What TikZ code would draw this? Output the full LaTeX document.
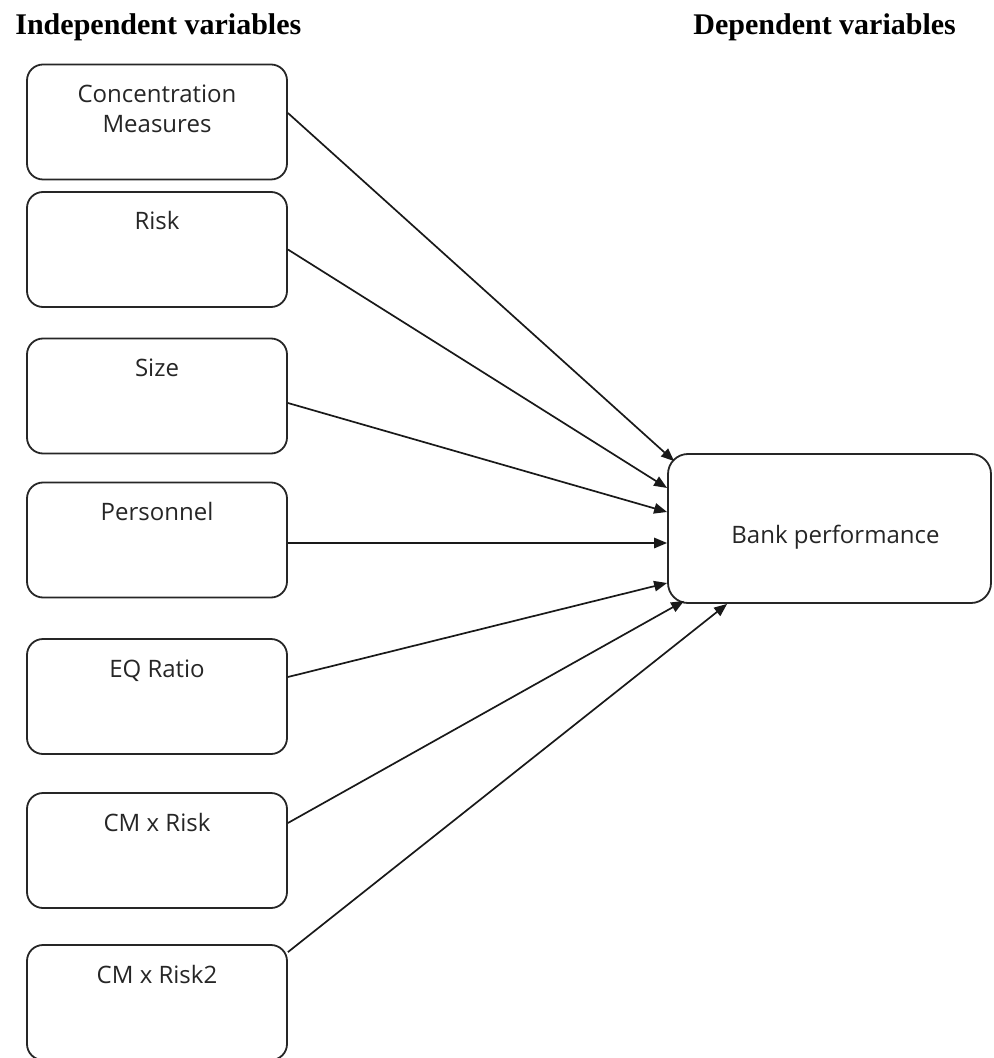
\documentclass[tikz,border=0pt]{standalone}
\usepackage{fontspec}
\setmainfont{Open Sans}
\newfontfamily\headfont{Liberation Serif}
\usetikzlibrary{arrows.meta}

\tikzset{
	varbox/.style={draw=black!85, line width=0.9pt, rounded corners=8pt, fill=white,
		minimum width=130pt, inner xsep=0pt, inner ysep=0pt, align=center,
		text height=19pt, text depth=38.5pt, text=black!85,
		font=\fontsize{12}{15}\selectfont},
	twoline/.style={text height=34pt, text depth=23.5pt},
	bankbox/.style={varbox, rounded corners=10pt, minimum width=161.5pt,
		text height=44.5pt, text depth=30pt},
	heading/.style={anchor=base west, inner sep=0pt, font=\headfont\bfseries\fontsize{15}{18}\selectfont},
	link/.style={line width=0.85pt, black!90, -{Triangle[length=6.5pt,width=5.2pt]}}
}

\begin{document}
\begin{tikzpicture}[x=0.5pt,y=-0.5pt]
	\useasboundingbox (0,0) rectangle (993,1058);
	
	% Titles
	\node[heading] (indep) at (15,35) {Independent variables};
	\node[heading] (dep) at (693,35) {Dependent variables};
	
	% Left boxes
	\node[varbox,twoline] (cm) at (157,122) {Concentration\\Measures};
	\foreach \nm/\ypos/\txt in {risk/249.5/Risk, size/396/Size, pers/540/Personnel,
		eq/696.5/EQ Ratio, cmrisk/850.5/CM x Risk, cmrisktwo/1002.5/CM x Risk2} {
		\node[varbox] (\nm) at (157,\ypos) {\txt};
	}
	
	% Right box
	\node[bankbox] (bank) at (829.5,528.5) {\hspace*{6pt}Bank performance};
	
	% Arrows
	\draw[link] ([shift={(0,-9)}]cm.east) -- ([shift={(7,8)}]bank.north west);
	\draw[link] (risk.east) -- ([shift={(0,-40.5)}]bank.west);
	\draw[link] ([shift={(0,7)}]size.east) -- ([shift={(0,-16.5)}]bank.west);
	\draw[link] ([shift={(0,3)}]pers.east) -- ([shift={(0,14.5)}]bank.west);
	\draw[link] ([shift={(0,-19.5)}]eq.east) -- ([shift={(0,54.5)}]bank.west);
	\draw[link] ([shift={(0,-27.5)}]cmrisk.east) -- ([shift={(17,-3)}]bank.south west);
	\draw[link] ([shift={(0,8)}]cmrisktwo.north east) -- ([shift={(60,0)}]bank.south west);
\end{tikzpicture}
\end{document}
